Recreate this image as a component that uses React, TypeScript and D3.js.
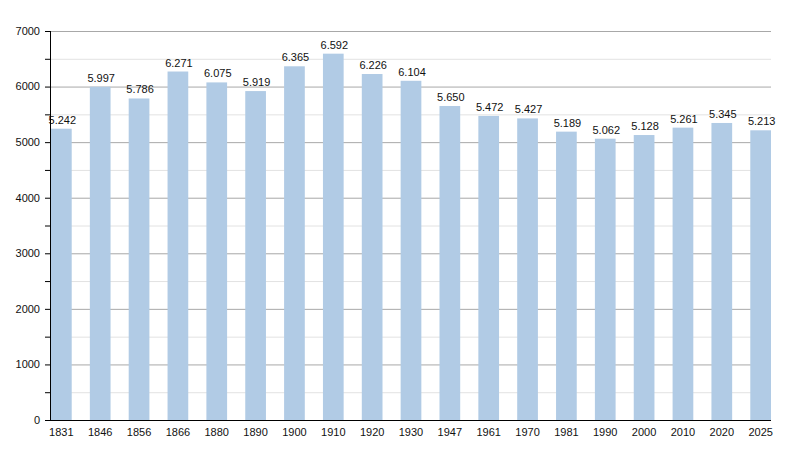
import React, { useRef, useEffect } from 'react';
import * as d3 from 'd3';

// census years and population
const years = ["1831", "1846", "1856", "1866", "1880", "1890", "1900", "1910", "1920", "1930", "1947", "1961", "1970", "1981", "1990", "2000", "2010", "2020", "2025"];
const population = [5242, 5997, 5786, 6271, 6075, 5919, 6365, 6592, 6226, 6104, 5650, 5472, 5427, 5189, 5062, 5128, 5261, 5345, 5213];
const majorTicks = [0, 1000, 2000, 3000, 4000, 5000, 6000, 7000];
const minorTicks = [500, 1500, 2500, 3500, 4500, 5500, 6500];

const W = 800;
const H = 450;
const left = 50;
const right = 771;
const top = 31;
const bottom = 420;

const fmt = (v: number) => {
    const s = String(v);
    return s.length > 3 ? s.slice(0, s.length - 3) + "." + s.slice(-3) : s;
};

const App = () => {
    const ref = useRef<SVGSVGElement | null>(null);

    useEffect(() => {
        const svg = d3.select(ref.current);
        svg.selectAll("*").remove();

        const x = d3.scaleBand<string>().domain(years).range([left + 1, right]).paddingInner(0.467).paddingOuter(0).align(0);
        const y = d3.scaleLinear().domain([0, 7000]).range([bottom, top]);

        const font = "'Liberation Sans', Arial, sans-serif";

        // minor gridlines
        svg.append("g").selectAll("line").data(minorTicks).enter().append("line")
            .attr("x1", left).attr("x2", right)
            .attr("y1", d => y(d) + 0.5).attr("y2", d => y(d) + 0.5)
            .style("stroke", "#e2e2e2");

        // major gridlines
        svg.append("g").selectAll("line").data(majorTicks.filter(d => d > 0)).enter().append("line")
            .attr("x1", left).attr("x2", right)
            .attr("y1", d => y(d) + 0.5).attr("y2", d => y(d) + 0.5)
            .style("stroke", "#a8a8a8");

        // bars
        svg.append("g").selectAll("rect").data(population).enter().append("rect")
            .attr("x", (d, i) => x(years[i])!)
            .attr("width", x.bandwidth())
            .attr("y", d => y(d))
            .attr("height", d => bottom - y(d))
            .style("fill", "#b1cbe5");

        // value labels
        svg.append("g").selectAll("text").data(population).enter().append("text")
            .attr("x", (d, i) => x(years[i])! + x.bandwidth() / 2 + 1)
            .attr("y", d => y(d) - 5)
            .text(d => fmt(d))
            .style("text-anchor", "middle")
            .style("font-family", font)
            .style("font-size", "11px")
            .style("fill", "#111");

        // y ticks
        svg.append("g").selectAll("line").data([...majorTicks, ...minorTicks]).enter().append("line")
            .attr("x1", left - 5).attr("x2", left)
            .attr("y1", d => y(d) + 0.5).attr("y2", d => y(d) + 0.5)
            .style("stroke", "#000");

        svg.append("g").selectAll("text").data(majorTicks).enter().append("text")
            .attr("x", 40)
            .attr("y", d => y(d))
            .attr("dy", "0.35em")
            .text(d => String(d))
            .style("text-anchor", "end")
            .style("font-family", font)
            .style("font-size", "11px")
            .style("fill", "#111");

        // x labels
        svg.append("g").selectAll("text").data(years).enter().append("text")
            .attr("x", d => x(d)! + x.bandwidth() / 2)
            .attr("y", 436)
            .text(d => d)
            .style("text-anchor", "middle")
            .style("font-family", font)
            .style("font-size", "11px")
            .style("fill", "#111");

        // axes lines
        svg.append("line")
            .attr("x1", left + 0.5).attr("x2", left + 0.5)
            .attr("y1", top).attr("y2", bottom + 1)
            .style("stroke", "#000");
        svg.append("line")
            .attr("x1", left).attr("x2", right)
            .attr("y1", bottom + 0.5).attr("y2", bottom + 0.5)
            .style("stroke", "#000");
    }, []);

    return <svg ref={ref} width={W} height={H} style={{ display: "block", position: "absolute", left: 0, top: 0 }} />;
};

export default App;
